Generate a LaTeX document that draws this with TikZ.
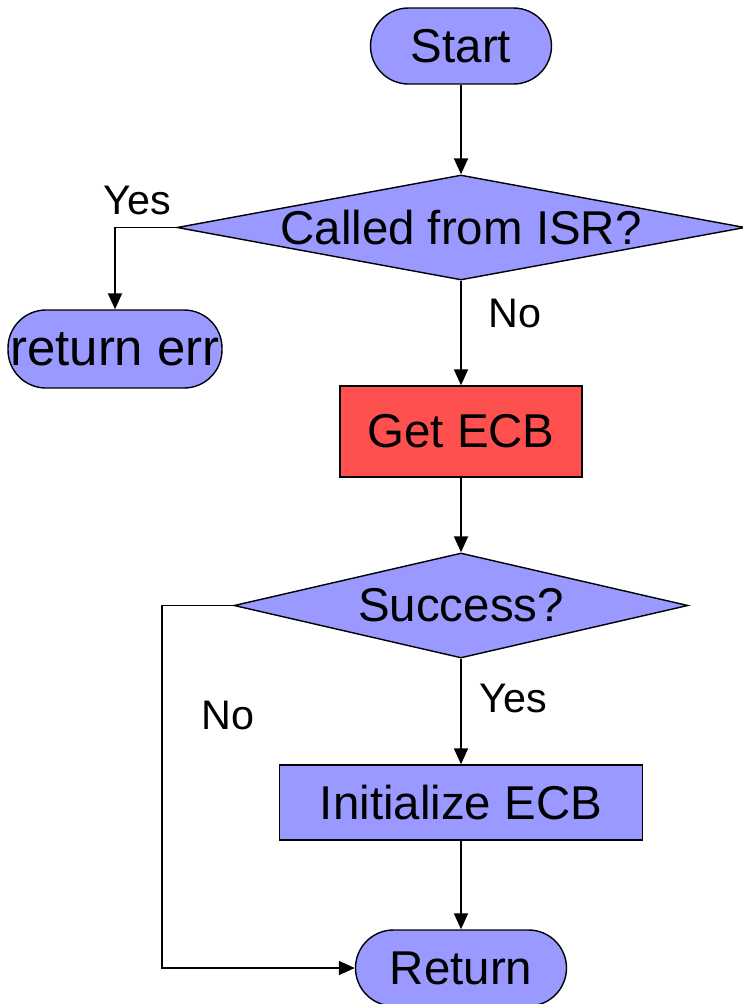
\documentclass[tikz,border=0pt]{standalone}
\usepackage{fontspec}
\setmainfont{Liberation Sans}
\usepackage{xcolor}
\usetikzlibrary{positioning,arrows.meta,shapes.geometric}
\definecolor{flowblue}{HTML}{9999FF}
\definecolor{flowred}{HTML}{FF5050}

\tikzset{
  terminal/.style = {draw=black, line width=0.8pt, fill=flowblue, rectangle, rounded corners=0.76cm, inner sep=0pt, font=\fontsize{27}{32}\selectfont},
  process/.style = {draw=black, line width=0.8pt, fill=flowblue, rectangle, inner sep=0pt, font=\fontsize{27}{32}\selectfont},
  decision/.style = {draw=black, line width=0.8pt, fill=flowblue, diamond, inner sep=0pt, label={[font=\fontsize{27}{32}\selectfont]center:#1}},
  branch/.style = {font=\fontsize{23.5}{28}\selectfont},
  flow/.style = {line width=1.1pt, -{Triangle[length=0.32cm,width=0.28cm]}}
}

\begin{document}
\begin{tikzpicture}
\useasboundingbox (0,0) rectangle (14.86,-20.08);

\node[terminal, minimum width=3.62cm, minimum height=1.52cm] (start) at (9.22,-0.92) {Start};
\node[decision={Called from ISR?}, minimum width=11.36cm, minimum height=2.1cm] (isr) at (9.22,-4.55) {};
\node[terminal, minimum width=4.28cm, minimum height=1.56cm, font=\fontsize{29}{34}\selectfont] (err) at (2.30,-6.98) {return err};
\node[process, fill=flowred, minimum width=4.84cm, minimum height=1.82cm] (getecb) at (9.22,-8.63) {Get ECB};
\node[decision={Success?}, minimum width=9.08cm, minimum height=2.1cm] (success) at (9.22,-12.11) {};
\node[process, minimum width=7.26cm, minimum height=1.5cm] (init) at (9.22,-16.05) {Initialize ECB};
\node[terminal, minimum width=4.22cm, minimum height=1.52cm] (ret) at (9.22,-19.36) {Return};

\coordinate (nobend) at (3.24,-12.11);

\draw[flow] (start) -- (isr);
\draw[flow] (isr.west) -| (err.north);
\draw[flow] (isr) -- (getecb);
\draw[flow] (getecb) -- (success);
\draw[flow] (success) -- (init);
\draw[flow] (init) -- (ret);
\draw[flow] (success.west) -- (nobend) |- (ret.west);

% branch labels
\node[branch] (isryes) at (2.74,-4.00) {Yes};
\node[branch] (isrno) at (10.30,-6.26) {No};
\node[branch] (sucyes) at (10.26,-13.96) {Yes};
\node[branch] (sucno) at (4.56,-14.30) {No};
\end{tikzpicture}
\end{document}
